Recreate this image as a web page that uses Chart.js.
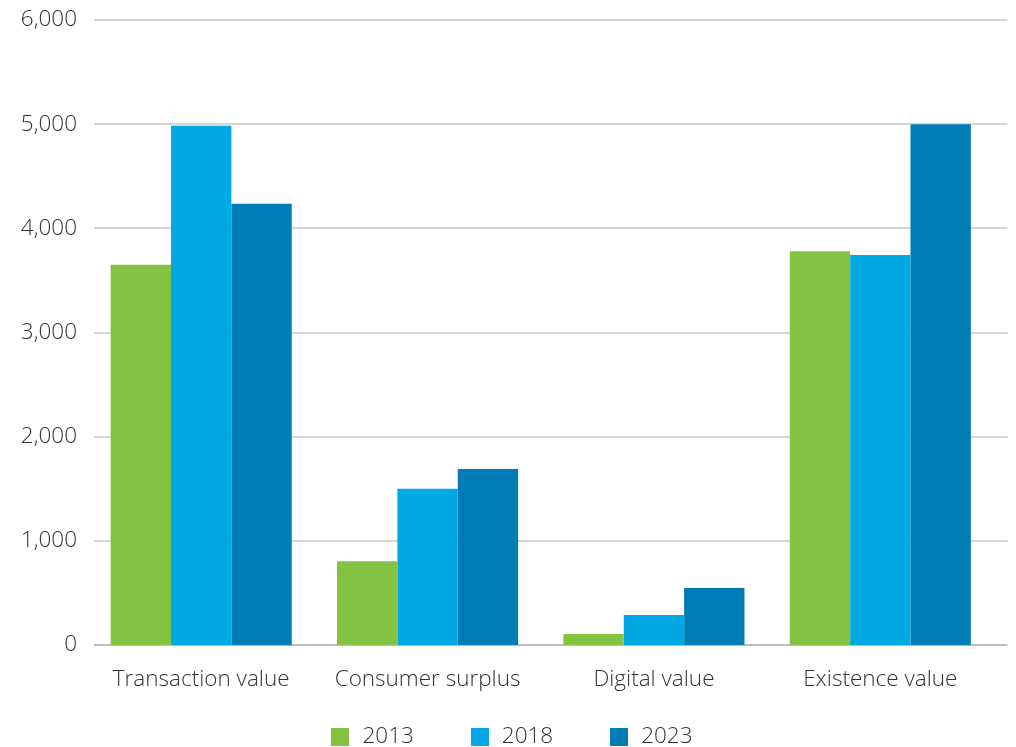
<!DOCTYPE html>
<html lang="en">
<head>
    <meta charset="UTF-8">
    <script src="https://cdn.jsdelivr.net/npm/chart.js"></script>
    <title>Value by type</title>
    <style>
        html, body { margin: 0; padding: 0; background: #fff; }
        .chart-container { width: 1016px; height: 747px; }
    </style>
</head>
<body>
<div class="chart-container">
    <canvas id="myChart"></canvas>
</div>
<script>
var categories = ['Transaction value', 'Consumer surplus', 'Digital value', 'Existence value'];
var years = ['2013', '2018', '2023'];
var values2013 = [3650, 805, 105, 3780];
var values2018 = [4985, 1500, 288, 3745];
var values2023 = [4235, 1690, 547, 5000];
var yTicks = [0, 1000, 2000, 3000, 4000, 5000, 6000];
var colors = ['#83c341', '#00a9e4', '#007db6'];

var textColor = '#333333';
var fontFamily = '"Open Sans", "Noto Sans", sans-serif';
var fontWeight = 300;
var fontSize = 22.5;

// horizontal grid lines, a little wider than the category area
var gridLines = {
    id: 'gridLines',
    beforeDatasetsDraw: function (chart) {
        var ctx = chart.ctx;
        var area = chart.chartArea;
        var y = chart.scales.y;
        ctx.save();
        y.ticks.forEach(function (t) {
            var py = Math.round(y.getPixelForValue(t.value));
            ctx.beginPath();
            ctx.lineWidth = 2;
            ctx.strokeStyle = t.value === 0 ? '#bdbdbd' : '#d6d6d6';
            ctx.moveTo(area.left + 6, py);
            ctx.lineTo(area.right + 14, py);
            ctx.stroke();
        });
        ctx.restore();
    }
};

// one-row legend along the bottom edge, wide gaps between the entries
var legendRow = {
    id: 'legendRow',
    afterDraw: function (chart) {
        var ctx = chart.ctx;
        var box = 18, gap = 13, spacing = 57;
        ctx.save();
        ctx.font = fontWeight + ' ' + fontSize + 'px ' + fontFamily;
        ctx.textBaseline = 'middle';
        ctx.textAlign = 'left';
        var items = chart.data.datasets.map(function (ds) {
            return { text: ds.label, color: ds.backgroundColor, w: ctx.measureText(ds.label).width };
        });
        var total = spacing * (items.length - 1);
        items.forEach(function (it) { total += box + gap + it.w; });
        var x = chart.width / 2 + 4 - total / 2;
        var cy = chart.height - 10;
        items.forEach(function (it) {
            ctx.fillStyle = it.color;
            ctx.fillRect(Math.round(x), cy - box / 2, box, box);
            ctx.fillStyle = textColor;
            ctx.fillText(it.text, x + box + gap, cy);
            x += box + gap + it.w + spacing;
        });
        ctx.restore();
    }
};

var ctx = document.getElementById('myChart').getContext('2d');
var myChart = new Chart(ctx, {
    type: 'bar',
    data: {
        labels: categories,
        datasets: [
            { label: years[0], data: values2013, backgroundColor: colors[0] },
            { label: years[1], data: values2018, backgroundColor: colors[1] },
            { label: years[2], data: values2023, backgroundColor: colors[2] },
        ],
    },
    options: {
        responsive: true,
        maintainAspectRatio: false,
        animation: false,
        categoryPercentage: 0.8,
        barPercentage: 1.0,
        layout: {
            padding: { left: 0, right: 22.5, top: 20, bottom: 33 },
        },
        plugins: {
            tooltip: { enabled: false },
            legend: { display: false },
        },
        scales: {
            x: {
                grid: { display: false, drawTicks: false },
                border: { display: false },
                ticks: {
                    color: textColor,
                    padding: 21,
                    maxRotation: 0,
                    autoSkip: false,
                    font: { family: fontFamily, size: fontSize, weight: fontWeight },
                },
            },
            y: {
                min: 0,
                max: 6000,
                grid: { display: false, drawTicks: false },
                border: { display: false },
                afterBuildTicks: function (scale) {
                    scale.ticks = yTicks.map(function (v) { return { value: v }; });
                },
                ticks: {
                    color: textColor,
                    padding: 11,
                    font: { family: fontFamily, size: fontSize, weight: fontWeight, lineHeight: 0.7 },
                    callback: function (v) { return Number(v).toLocaleString('en-US'); },
                },
                afterFit: function (scale) { scale.width = 88; },
            },
        },
    },
    plugins: [gridLines, legendRow],
});
</script>
</body>
</html>
